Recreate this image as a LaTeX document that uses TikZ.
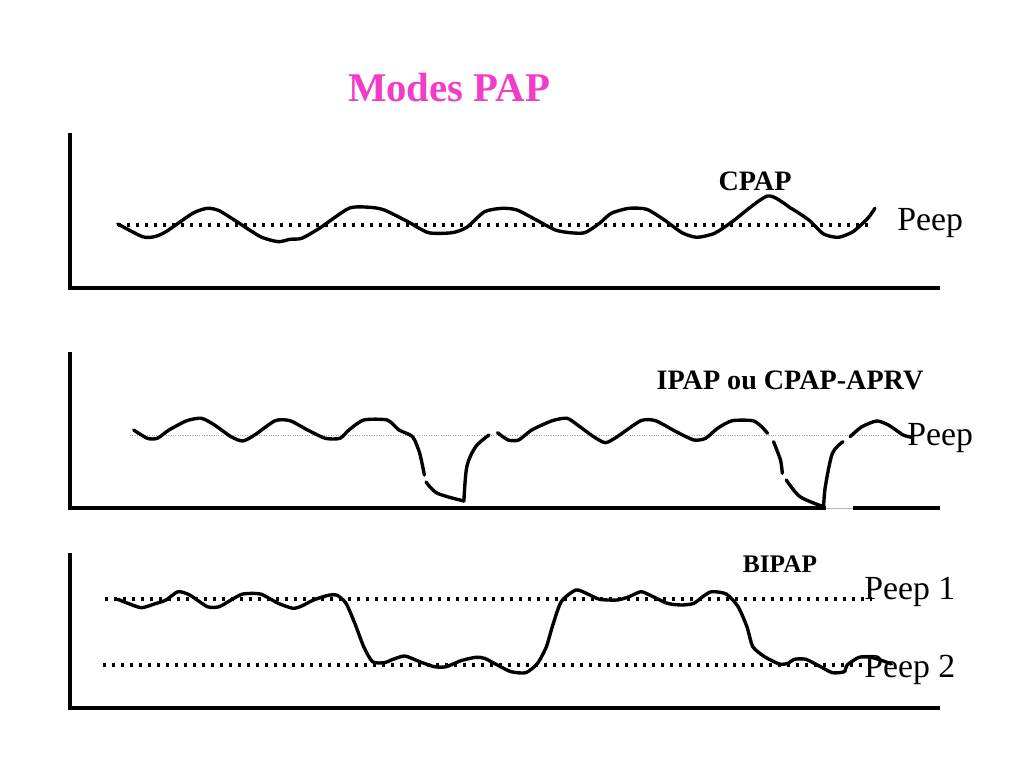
\documentclass[tikz,border=0pt]{standalone}
\usepackage{fontspec}
\setmainfont{Liberation Serif}
\usepackage{xcolor}
\usetikzlibrary{positioning}
\definecolor{titlepink}{RGB}{240,60,200}

\begin{document}
\begin{tikzpicture}[x=0.025cm, y=-0.025cm,
    axis/.style={line width=2.3pt},
    wave/.style={line width=2.4pt, line join=round, line cap=round},
    peepline/.style={line width=2.2pt, dash pattern=on 2pt off 4.4pt},
    thinpeep/.style={line width=0.7pt, gray!70, densely dotted},
    lbl/.style={font=\fontsize{20}{24}\selectfont\bfseries},
    peeplbl/.style={font=\fontsize{24}{28}\selectfont, anchor=base west, inner sep=0pt}]
    \useasboundingbox (0,0) rectangle (1024,768);

    % Titre
    \node[font=\fontsize{29}{33}\selectfont\bfseries, text=titlepink, anchor=base] (title) at (449,102) {Modes PAP};

    % Graphe CPAP
    \draw[axis] (70,133) -- (70,288) -- (940,288);
    \draw[peepline] (118,225) -- (872,225);
    \draw[wave] plot[smooth, tension=0.4] coordinates {
        (117.8,224) (142.5,236.7) (154.3,236.7) (166,231.7) (192.7,213.3) (207.4,208.3)
        (219.2,210.7) (236.9,221.7) (260.5,236.7) (278.2,241.7) (290,239.3) (301.7,238.3)
        (319.4,228.3) (348.9,208.3) (369.6,207.3) (384.3,210) (407.9,221.7) (428.5,232.7)
        (452.1,232.7) (466.8,227.3) (484.5,211.7) (502.2,208.3) (517,210) (537.6,220.7)
        (555.3,230) (570,232.7) (584.8,232.7) (599.5,223.3) (611.3,213.3) (629,208.3)
        (646.7,209.3) (664.4,220) (682,232.7) (696.8,237.3) (714.5,233.3) (732.2,221.7)
        (767.5,196) (791.1,208.3) (808.8,220) (823.6,234) (838.3,237.3) (853,231.7)
        (867.8,218.3) (874.9,208.3)};
    \node[lbl, anchor=base] (cpap) at (755,191) {CPAP};
    \node[peeplbl] (peepa) at (897,230) {Peep};

    % Graphe IPAP ou CPAP-APRV
    \draw[axis] (70,352) -- (70,508) -- (826,508);
    \draw[axis] (853,508) -- (940,508);
    \draw[line width=0.5pt, gray!60] (826,508) -- (853,508);
    \draw[thinpeep] (130,435) -- (905,435);
    \draw[wave] plot[smooth, tension=0.4] coordinates {
        (133.7,430) (147.3,438.3) (157.3,438.3) (169,430) (186.8,420.7) (201.5,418.3)
        (214.5,425) (231,436.7) (242.8,441) (254.6,435) (275.2,420.7) (290,420.7)
        (307.6,430) (325.3,438.3) (340,438.3) (348.9,430) (363.7,420) (387.2,420)
        (399,430) (412.6,436.7) (419.7,453.3) (424.4,475)};
    \draw[wave] plot[smooth, tension=0.5] coordinates {
        (426,482) (437.4,493.3) (463.9,501)};
    \draw[wave] plot[smooth, tension=0.5] coordinates {
        (463.9,501) (466.8,466.7) (475.7,446.7) (489,435)};
    \draw[wave] plot[smooth, tension=0.4] coordinates {
        (497.5,432.7) (508.1,440) (518.7,440) (531.7,430) (552.3,420.7) (567.1,418.3)
        (578.9,426) (593.6,436.7) (605.4,442.7) (617.2,436.7) (640.8,420.7) (655.5,420.7)
        (676.2,431.7) (693.9,440) (705.7,438.3) (717.5,428.3) (732.2,420.7) (752.8,420.7)
        (761.6,426.7) (767.5,433.3)};
    \draw[wave] plot[smooth, tension=0.4] coordinates {
        (773.5,441.7) (780.5,460) (782.3,473.3)};
    \draw[wave] plot[smooth, tension=0.5] coordinates {
        (786.3,480) (800,496.7) (823.6,506.7)};
    \draw[wave] plot[smooth, tension=0.5] coordinates {
        (823.6,506.7) (825.3,486.7) (832.4,453.3) (843,441.7)};
    \draw[wave] plot[smooth, tension=0.4] coordinates {
        (850,436.7) (861.9,426.7) (876.7,421) (888.4,425) (903.2,435) (912,437.3)};
    \node[lbl, anchor=base] (ipap) at (790,389) {IPAP ou CPAP-APRV};
    \node[peeplbl] (peepb) at (907,445) {Peep};

    % Graphe BIPAP
    \draw[axis] (70,553) -- (70,708) -- (940,708);
    \draw[peepline] (105,599) -- (872,599);
    \draw[peepline] (103,665) -- (872,665);
    \draw[wave] plot[smooth, tension=0.4] coordinates {
        (117.8,599.3) (127.8,603.3) (141.4,607.7) (154.3,604) (166.1,600) (177.9,591.7)
        (189.7,595) (207.4,606.7) (219.2,606.7) (231,600) (242.8,594) (260.5,594)
        (278.2,603.3) (292.9,608.3) (301.7,606) (313.5,600) (328.3,595.3) (337.1,595.3)
        (346,603.3) (354.8,623.3) (363.7,646.7) (372.5,661.7) (384.3,662.7) (393.1,659.3)
        (404.9,656) (419.7,661.7) (434.4,666.7) (446.2,666.7) (460.9,660.7) (475.7,657.3)
        (484.5,658.3) (499.3,666) (511.1,671.7) (525.8,672.7) (537.6,663.3) (546.4,646.7)
        (552.3,626.7) (561.2,601.7) (575.9,590) (587.7,594) (599.5,599.3) (617.2,600)
        (629,596.7) (640.8,591.7) (649.6,595) (667.3,603.3) (682,605) (693.9,603.3)
        (702.7,596.7) (711.5,591.7) (726.3,594) (738.1,606.7) (746.9,626.7) (752.8,646.7)
        (764.6,656.7) (779.3,664) (788.2,663.3) (794.1,659.3) (805.9,659.3) (820.6,666.7)
        (832.4,672.7) (844.2,671.7) (847.2,665) (859,657.3) (870.8,657.3) (882.5,660.7)
        (891.4,664)};
    \node[font=\fontsize{18}{22}\selectfont\bfseries, anchor=base] (bipap) at (780,572) {BIPAP};
    \node[peeplbl] (peepun) at (864,599) {Peep 1};
    \node[peeplbl] (peepdeux) at (864,677) {Peep 2};
\end{tikzpicture}
\end{document}
